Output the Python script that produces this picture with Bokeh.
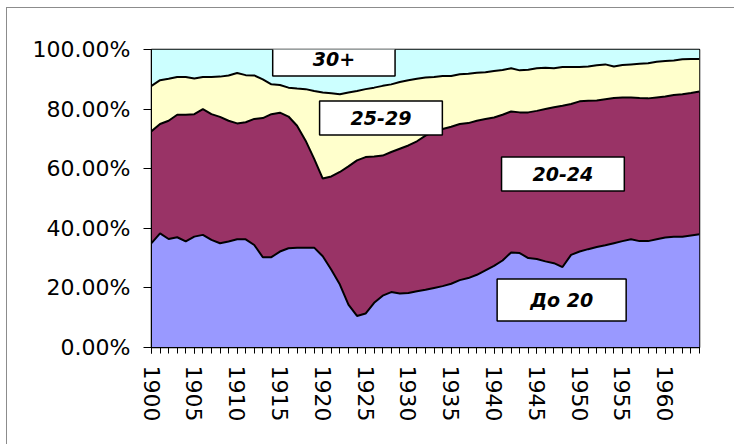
from bokeh.plotting import figure
from bokeh.models import ColumnDataSource, Range1d, FixedTicker, PrintfTickFormatter, Label
from bokeh.transform import stack
from bokeh.embed import file_html
from bokeh.resources import INLINE

years = list(range(1900, 1965))

# shares of births by mother's age group, %
do20 = [35.0, 38.3, 36.4, 37.0, 35.6, 37.2, 37.8, 36.1, 35.0, 35.6,
        36.3, 36.3, 34.4, 30.3, 30.3, 32.2, 33.3, 33.5, 33.5, 33.5,
        30.6, 26.1, 21.1, 14.4, 10.6, 11.4, 15.0, 17.4, 18.6, 18.1,
        18.3, 18.9, 19.4, 20.0, 20.6, 21.4, 22.6, 23.3, 24.4, 25.9,
        27.4, 29.2, 31.9, 31.7, 30.0, 29.7, 28.9, 28.3, 27.0, 31.1,
        32.2, 33.0, 33.7, 34.3, 35.0, 35.7, 36.3, 35.7, 35.7, 36.3,
        36.9, 37.2, 37.2, 37.6, 38.0]
a20_24 = [37.6, 36.7, 39.7, 41.1, 42.5, 41.1, 42.2, 42.2, 42.4, 40.5,
          38.9, 39.3, 42.3, 46.7, 48.0, 46.6, 44.2, 40.9, 35.9, 29.8,
          26.1, 31.3, 37.8, 46.4, 52.2, 52.5, 49.1, 47.0, 47.0, 48.6,
          49.5, 50.3, 51.7, 52.5, 52.7, 52.7, 52.4, 52.0, 51.7, 50.8,
          49.8, 48.9, 47.3, 47.2, 48.9, 49.7, 51.1, 52.3, 54.1, 50.6,
          50.4, 49.8, 49.2, 49.0, 48.7, 48.2, 47.6, 48.0, 47.9, 47.6,
          47.3, 47.5, 47.8, 47.8, 47.9]
a25_29 = [15.2, 14.7, 14.1, 12.7, 12.7, 12.0, 10.8, 12.5, 13.5, 15.2,
          16.9, 15.8, 14.6, 13.0, 10.0, 9.3, 9.7, 12.5, 17.3, 22.8,
          28.9, 27.9, 26.1, 24.8, 23.3, 22.8, 23.1, 23.4, 22.7, 22.4,
          21.9, 21.0, 19.5, 18.3, 17.8, 17.0, 16.7, 16.6, 16.1, 15.7,
          15.6, 15.0, 14.5, 14.1, 14.3, 14.3, 13.9, 13.1, 13.0, 12.4,
          11.5, 11.5, 11.8, 11.7, 10.6, 10.9, 11.1, 11.5, 11.8, 12.0,
          11.9, 11.6, 11.7, 11.4, 10.9]
a30p = [12.2, 10.3, 9.8, 9.2, 9.2, 9.7, 9.2, 9.2, 9.1, 8.7,
        7.9, 8.6, 8.7, 10.0, 11.7, 11.9, 12.8, 13.1, 13.3, 13.9,
        14.4, 14.7, 15.0, 14.4, 13.9, 13.3, 12.8, 12.2, 11.7, 10.9,
        10.3, 9.8, 9.4, 9.2, 8.9, 8.9, 8.3, 8.1, 7.8, 7.6,
        7.2, 6.9, 6.3, 7.0, 6.8, 6.3, 6.1, 6.3, 5.9, 5.9,
        5.9, 5.7, 5.3, 5.0, 5.7, 5.2, 5.0, 4.8, 4.6, 4.1,
        3.9, 3.7, 3.3, 3.2, 3.2]

series = ["do20", "a20_24", "a25_29", "a30p"]
series_labels = ["До 20", "20-24", "25-29", "30+"]
colors = ["#9999FF", "#993366", "#FFFFCC", "#CCFFFF"]
y_ticks = [0, 20, 40, 60, 80, 100]
x_label_ticks = years[::5]

src = ColumnDataSource(dict(year=years, do20=do20, a20_24=a20_24,
                            a25_29=a25_29, a30p=a30p))

p = figure(width=727, height=436, output_backend="svg", toolbar_location=None,
           x_range=Range1d(years[0], years[-1]), y_range=Range1d(0, 100),
           min_border_left=144, min_border_right=35, min_border_top=41,
           min_border_bottom=97, frame_width=548, frame_height=298)
p.styles = {"margin-left": "6px", "margin-top": "7px",
            "border-left": "1px solid #8c8c8c", "border-top": "1px solid #8c8c8c"}

p.varea_stack(series, x="year", color=colors, source=src)
for i in range(1, len(series)):
    p.line(x="year", y=stack(*series[:i]), source=src, line_color="black", line_width=2)

p.xgrid.visible = False
p.ygrid.visible = False
p.outline_line_color = "black"
p.outline_line_width = 1.5
p.background_fill_color = "white"

ya = p.yaxis[0]
ya.ticker = FixedTicker(ticks=y_ticks, minor_ticks=[])
ya.formatter = PrintfTickFormatter(format="%.2f%%")
ya.axis_line_color = "black"
ya.major_tick_in = 0
ya.major_tick_out = 8
ya.minor_tick_out = 0
ya.major_label_standoff = 13
ya.major_label_text_font = "DejaVu Sans"
ya.major_label_text_font_size = "22px"
ya.major_label_text_color = "black"

xa = p.xaxis[0]
xa.ticker = FixedTicker(ticks=x_label_ticks, minor_ticks=years)
xa.axis_line_color = "black"
xa.major_tick_in = 0
xa.major_tick_out = 6
xa.minor_tick_in = 0
xa.minor_tick_out = 6
xa.major_label_orientation = "vertical"
xa.major_label_standoff = 12
xa.major_label_text_font = "DejaVu Sans"
xa.major_label_text_font_size = "22px"
xa.major_label_text_color = "black"

label_pos = {"30+": (1921.3, 96.8, 40), "25-29": (1926.8, 77.0, 31),
             "20-24": (1948.05, 58.2, 31), "До 20": (1947.9, 15.9, 33)}
for name in series_labels:
    lx, ly, padx = label_pos[name]
    p.add_layout(Label(x=lx, y=ly, text=name, text_align="center", text_baseline="middle",
                       text_font="DejaVu Sans", text_font_size="19px",
                       text_font_style="bold italic", text_color="black",
                       background_fill_color="white", border_line_color="black",
                       border_line_width=1.5,
                       padding=dict(left=padx, right=padx, top=10, bottom=10)))

open("out.html", "w").write(file_html(p, INLINE))
